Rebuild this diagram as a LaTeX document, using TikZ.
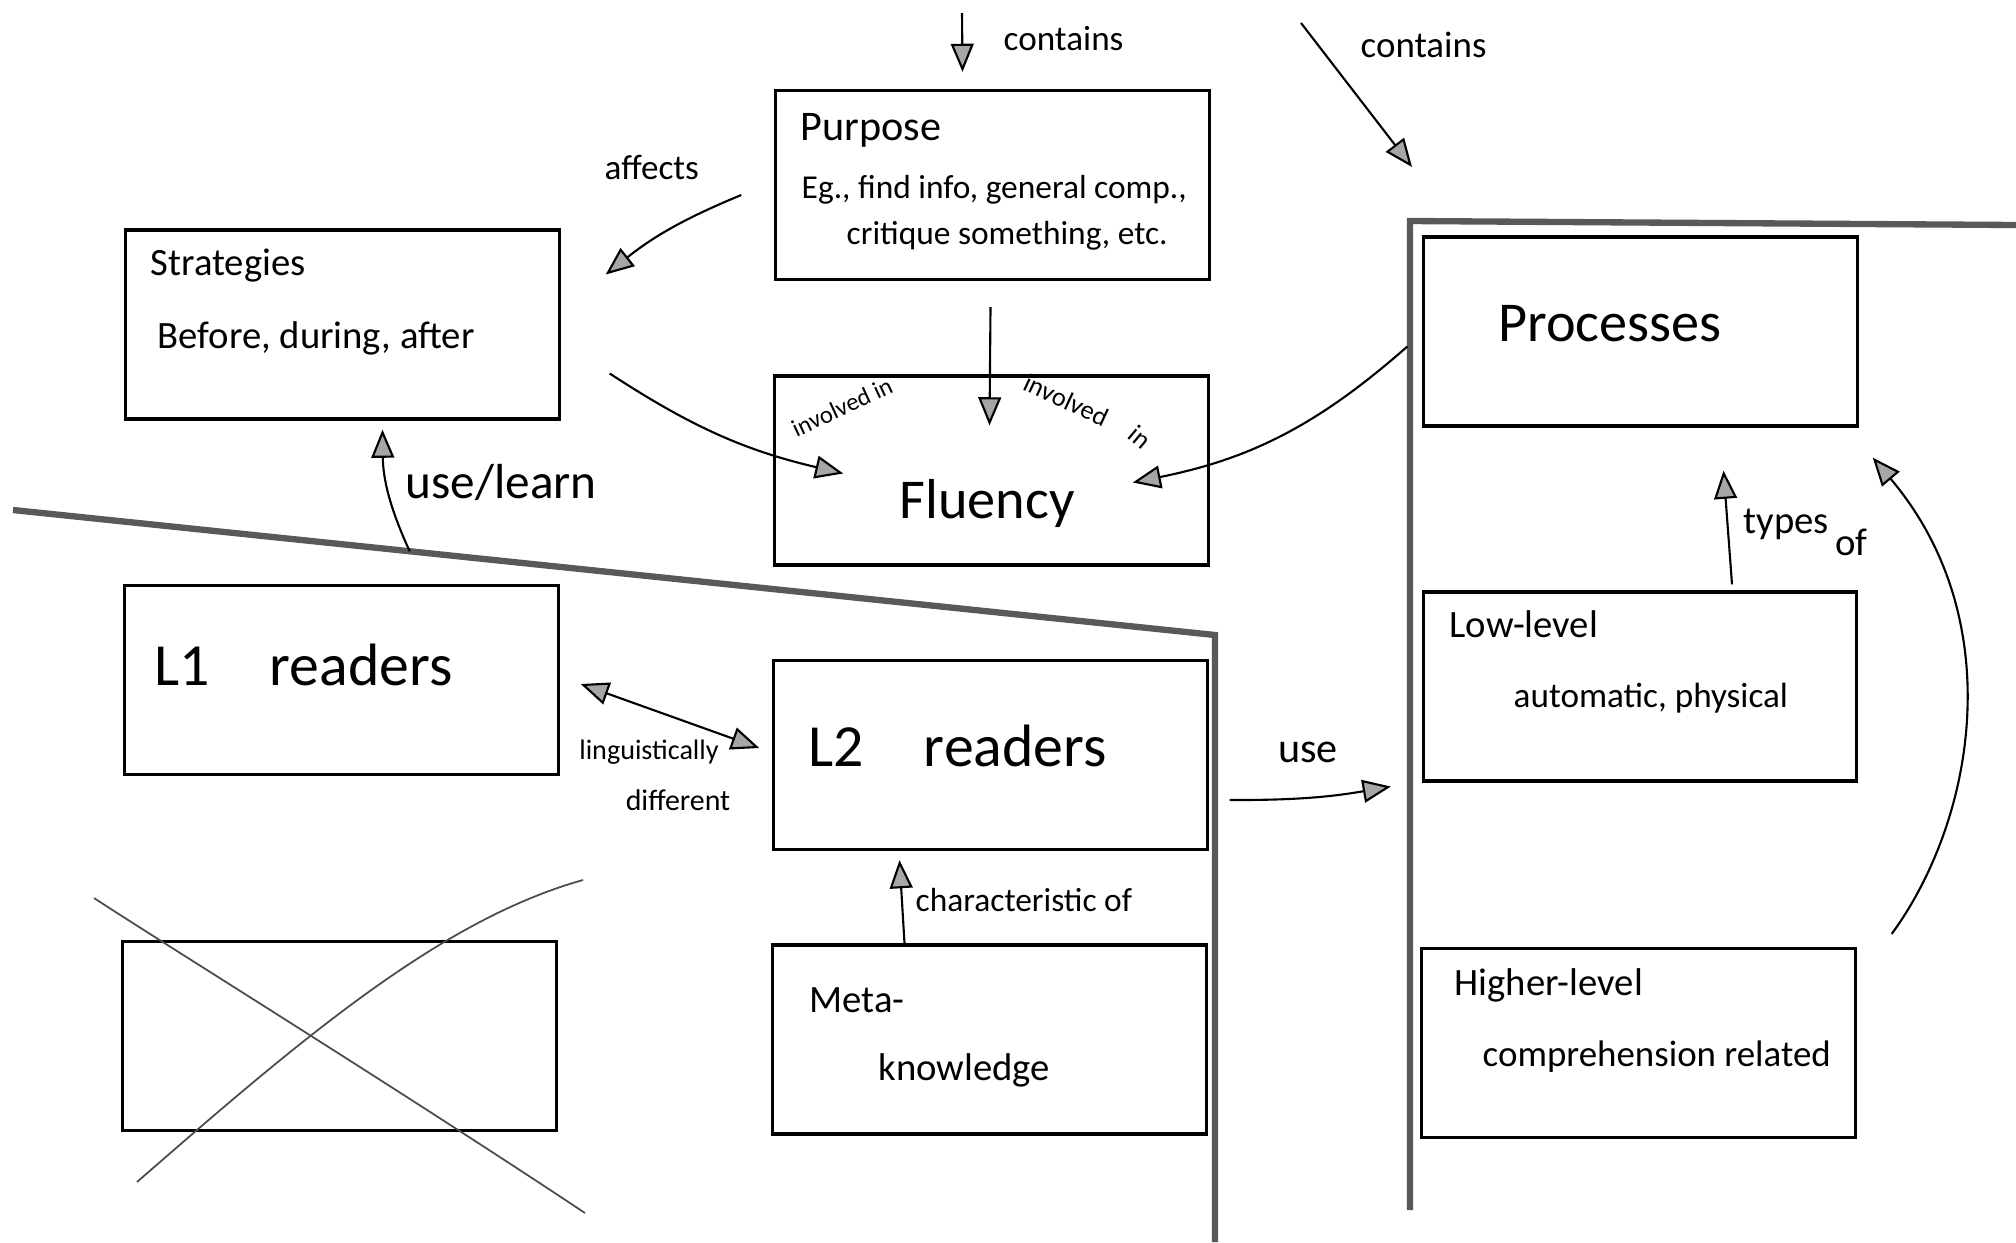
\documentclass[tikz,border=0pt]{standalone}
\usepackage{fontspec}
\setmainfont{Carlito}
\usetikzlibrary{arrows.meta,calc}
\newcommand{\fs}[1]{\fontsize{#1}{#1}\selectfont}
\begin{document}
\begin{tikzpicture}[x=0.01cm,y=-0.01cm,
  box/.style={draw=black,line width=0.9pt,minimum width=4.33cm,minimum height=1.89cm,inner sep=0pt},
  region/.style={draw=black!65,line width=1.8pt,line join=miter},
  conn/.style={line width=0.6pt,-{Triangle[length=8pt,width=6.5pt,fill=black!35]}},
  dconn/.style={line width=0.6pt,{Triangle[length=8pt,width=6.5pt,fill=black!35]}-{Triangle[length=8pt,width=6.5pt,fill=black!35]}},
  txt/.style={inner sep=0pt,anchor=west},
  lbl/.style={inner sep=0pt},
  cross/.style={draw=black!70,line width=0.5pt}]

\useasboundingbox[fill=white] (0,0) rectangle (2016,1242);

% region borders
\coordinate (dl) at (13,510);
\coordinate (dc) at (1215,635);
\coordinate (db) at (1215,1242);
\draw[region] (dl) -- (dc) -- (db);
\coordinate (pr) at (1410,221);
\coordinate (prr) at (2016,225);
\coordinate (prb) at (1410,1210);
\draw[region] (prb) -- (pr) -- (prr);

% boxes
\node[box] (purpose) at (992.5,185) {};
\node[box] (strategies) at (342.5,324.5) {};
\node[box] (fluency) at (991.5,470.5) {};
\node[box] (processes) at (1640.5,331.5) {};
\node[box] (l1) at (341.5,680) {};
\node[box] (l2) at (990.5,755) {};
\node[box] (low) at (1640,686.5) {};
\node[box] (crossed) at (339.5,1036) {};
\node[box] (meta) at (989.5,1039.5) {};
\node[box] (higher) at (1638.5,1043) {};

% box texts
\node[txt,font=\fs{12}] (tpurp1) at (800,130) {Purpose};
\node[txt,font=\fs{9.5}] (tpurp2) at (801,190) {Eg., find info, general comp.,};
\node[txt,font=\fs{9.5}] (tpurp3) at (846,236) {critique something, etc.};
\node[txt,font=\fs{11}] (tstrat1) at (150,266) {Strategies};
\node[txt,font=\fs{11}] (tstrat2) at (157,338) {Before, during, after};
\node[lbl,font=\fs{16}] (tflu) at (987,503) {Fluency};
\node[lbl,font=\fs{16}] (tproc) at (1610,324) {Processes};
\node[txt,font=\fs{17}] (tl1) at (154,665) {L1\quad readers};
\node[txt,font=\fs{17}] (tl2) at (808,746) {L2\quad readers};
\node[txt,font=\fs{11}] (tlow1) at (1449,624) {Low-level};
\node[txt,font=\fs{10}] (tlow2) at (1513,698) {automatic, physical};
\node[txt,font=\fs{11}] (tmeta1) at (809,1000) {Meta-};
\node[txt,font=\fs{11}] (tmeta2) at (878,1070) {knowledge};
\node[txt,font=\fs{11}] (thigh1) at (1454,985) {Higher-level};
\node[txt,font=\fs{10.5}] (thigh2) at (1482,1057) {comprehension related};

% free ends
\coordinate (c1) at (962,13);
\coordinate (c2) at (1301,23);
\coordinate (ulstart) at ($(dl)!0.33!(dc)$);

% connectors
\draw[conn] (c1) -- ($(purpose.north)+(-30,-17)$);
\node[txt,font=\fs{10}] (lcont1) at (1003,39) {contains};
\draw[conn] (c2) -- ($(pr)+(2,-54)$);
\node[txt,font=\fs{10.5}] (lcont2) at (1360,45) {contains};

\draw[conn] ($(purpose.west)+(-33,10)$) to[bend right=8] ($(strategies.east)+(45,-50)$);
\node[txt,font=\fs{10}] (laff) at (604,167) {affects};

\draw[conn] ($(strategies.east)+(49,49)$) to[bend right=10] ($(fluency.west)+(70,3)$);
\node[lbl,font=\fs{7},rotate=25] (linv1) at (842,407) {involved in};

\draw[conn] ($(purpose.south)+(-2,26)$) -- ($(fluency.north)+(-2,51)$);

\draw[conn] ($(processes.west)+(-15,15)$) to[bend left=15] ($(fluency.east)+(-77,12)$);
\node[lbl,font=\fs{7.5},rotate=-25] (linv2a) at (1066,400) {involved};
\node[lbl,font=\fs{7.5},rotate=-40] (linv2b) at (1140,437) {in};

\draw[conn] (ulstart) to[bend left=12] ($(strategies.south)+(40,9)$);
\node[txt,font=\fs{14}] (lul) at (405,482) {use/learn};

\draw[dconn] ($(l1.east)+(21,4)$) -- ($(l2.west)+(-13,-7)$);
\node[lbl,font=\fs{8}] (lling1) at (649,752) {linguistically};
\node[lbl,font=\fs{8.5}] (lling2) at (678,800) {different};

\draw[conn] ($(l2.east)+(21,45)$) to[bend right=5] ($(low.west)+(-31,100)$);
\node[lbl,font=\fs{12}] (luse) at (1308,752) {use};

\draw[conn] ($(low.north)+(92,-6)$) -- ($(processes.south)+(83,43)$);
\node[txt,font=\fs{11}] (ltypes) at (1743,532) {types\,\raisebox{-1.2ex}{of}};

\draw[conn] ($(higher.north east)+(35,-13)$) .. controls (1975,820) and (2010,620) .. ($(processes.south east)+(14,30)$);

\draw[conn] ($(meta.north)+(-85,0)$) -- ($(l2.south)+(-91,9)$);
\node[txt,font=\fs{9.5}] (lchar) at (915,900) {characteristic of};

% cross over the empty box
\draw[cross] (94,898) .. controls (150,935) and (400,1090) .. (585,1213);
\draw[cross] (137,1182) .. controls (300,1040) and (440,920) .. (583,880);
\end{tikzpicture}
\end{document}
